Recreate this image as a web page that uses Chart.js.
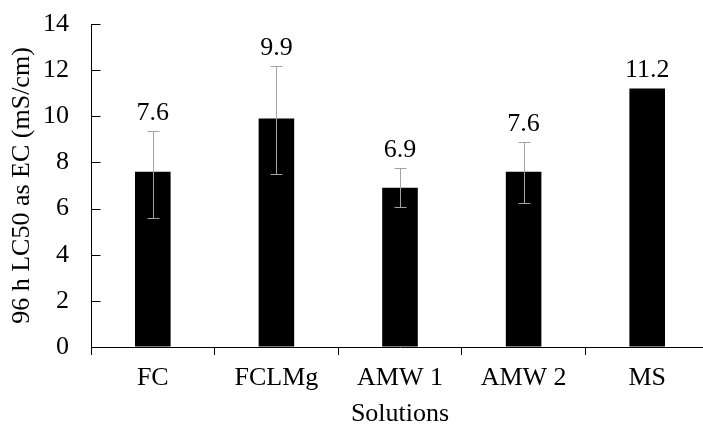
<!DOCTYPE html>
<html>
<head>
<meta charset="utf-8">
<script src="https://cdn.jsdelivr.net/npm/chart.js@4/dist/chart.umd.min.js"></script>
<style>
  html, body { margin: 0; padding: 0; background: #fff; overflow: hidden; }
  #wrap { width: 703px; height: 428px; overflow: hidden; position: relative; }
  #box { width: 710px; height: 428px; position: absolute; left: 0; top: 0; }
</style>
</head>
<body>
<div id="wrap"><div id="box"><canvas id="chart"></canvas></div></div>
<script>
// 96 h LC50 expressed as electrical conductivity, per test solution
const categories = ['FC', 'FCLMg', 'AMW 1', 'AMW 2', 'MS'];
const lc50 = [7.6, 9.9, 6.9, 7.6, 11.2];
// lower / upper confidence limits (MS has none)
const ciLow = [5.6, 7.5, 6.05, 6.25, null];
const ciHigh = [9.35, 12.17, 7.75, 8.87, null];
const yTicks = [0, 2, 4, 6, 8, 10, 12, 14];

const serif = 'Liberation Serif';
const fontSize = 26;

// inward tick stubs on the value axis
const innerTicks = {
  id: 'innerTicks',
  afterDraw(chart) {
    const { ctx, scales: { y } } = chart;
    const x0 = Math.round(y.right) + 0.5;
    ctx.save();
    ctx.strokeStyle = '#000';
    ctx.lineWidth = 1;
    ctx.beginPath();
    yTicks.forEach(v => {
      const py = Math.round(y.getPixelForValue(v)) + 0.5;
      ctx.moveTo(x0, py);
      ctx.lineTo(x0 + 9, py);
    });
    ctx.stroke();
    ctx.restore();
  }
};

// whiskers with caps, drawn from the confidence limits
const errorBars = {
  id: 'errorBars',
  afterDatasetsDraw(chart) {
    const { ctx, scales: { x, y } } = chart;
    ctx.save();
    ctx.strokeStyle = '#a3a3a3';
    ctx.lineWidth = 1;
    categories.forEach((c, i) => {
      if (ciLow[i] == null || ciHigh[i] == null) return;
      const px = Math.round(x.getPixelForValue(i)) + 0.5;
      const lo = Math.round(y.getPixelForValue(ciLow[i])) + 0.5;
      const hi = Math.round(y.getPixelForValue(ciHigh[i])) + 0.5;
      ctx.beginPath();
      ctx.moveTo(px, lo); ctx.lineTo(px, hi);
      ctx.moveTo(px - 6, lo); ctx.lineTo(px + 6, lo);
      ctx.moveTo(px - 6, hi); ctx.lineTo(px + 6, hi);
      ctx.stroke();
    });
    ctx.restore();
  }
};

// value labels above each bar (or above its upper whisker)
const valueLabels = {
  id: 'valueLabels',
  afterDatasetsDraw(chart) {
    const { ctx, scales: { x, y } } = chart;
    ctx.save();
    ctx.fillStyle = '#000';
    ctx.font = fontSize + 'px "Liberation Serif"';
    ctx.textAlign = 'center';
    ctx.textBaseline = 'middle';
    lc50.forEach((v, i) => {
      const top = ciHigh[i] != null ? Math.max(ciHigh[i], v) : v;
      const py = y.getPixelForValue(top) - 18;
      ctx.fillText(v.toFixed(1), x.getPixelForValue(i), py);
    });
    ctx.restore();
  }
};

new Chart(document.getElementById('chart'), {
  type: 'bar',
  data: {
    labels: categories,
    datasets: [{
      data: lc50,
      backgroundColor: '#000',
      borderWidth: 0,
      barPercentage: 0.288,
      categoryPercentage: 1.0
    }]
  },
  options: {
    responsive: true,
    maintainAspectRatio: false,
    animation: false,
    events: [],
    layout: { padding: { top: 24, right: 1, left: 0, bottom: 0 } },
    plugins: { legend: { display: false }, tooltip: { enabled: false } },
    scales: {
      x: {
        offset: true,
        grid: { offset: true, drawOnChartArea: false, drawTicks: true, tickLength: 8, color: '#000', lineWidth: 1 },
        border: { display: true, color: '#000', width: 1 },
        ticks: { color: '#000', font: { family: serif, size: fontSize }, padding: 8, maxRotation: 0 },
        title: { display: true, text: 'Solutions', color: '#000', font: { family: serif, size: fontSize }, padding: { top: 0, bottom: -2 } },
        afterFit(s) { s.height = 81; s.paddingLeft = 0; s.paddingRight = 0; }
      },
      y: {
        min: 0, max: 14,
        afterBuildTicks(s) { s.ticks = yTicks.map(v => ({ value: v })); },
        grid: { drawOnChartArea: false, drawTicks: false },
        border: { display: true, color: '#000', width: 1 },
        ticks: { color: '#000', font: { family: serif, size: fontSize }, padding: 22 },
        title: { display: true, text: '96 h LC50 as EC (mS/cm)', color: '#000', font: { family: serif, size: fontSize }, padding: { top: 7, bottom: 0 } },
        afterFit(s) { s.width = 91; s.paddingTop = 0; s.paddingBottom = 0; }
      }
    }
  },
  plugins: [errorBars, valueLabels, innerTicks]
});
</script>
</body>
</html>
